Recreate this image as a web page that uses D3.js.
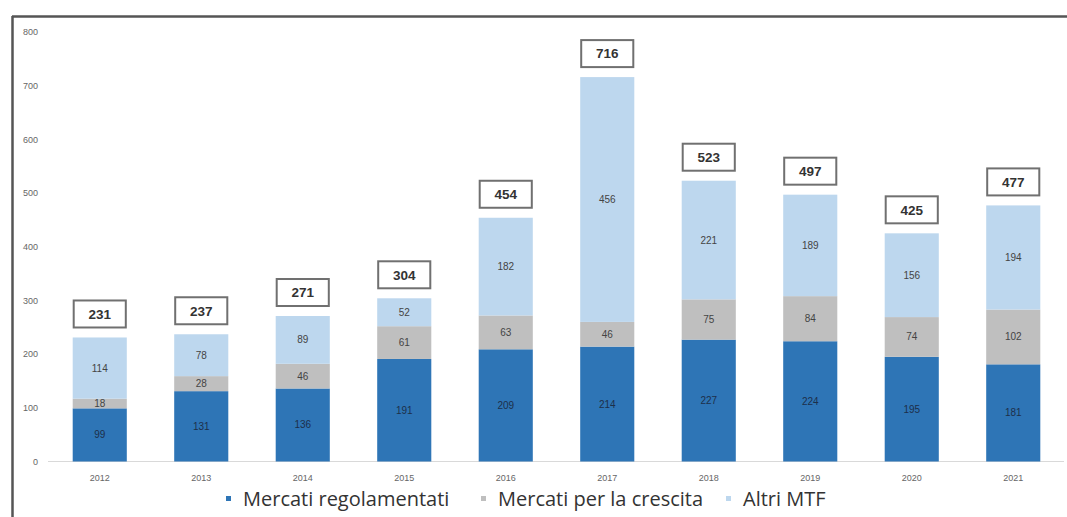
<!DOCTYPE html>
<html><head><meta charset="utf-8">
<script src="https://cdn.jsdelivr.net/npm/d3@7/dist/d3.min.js"></script>
<style>body{margin:0;background:#fff}svg{display:block}</style>
</head><body>
<svg id="c" width="1067" height="517"></svg>
<script>
const years = ["2012","2013","2014","2015","2016","2017","2018","2019","2020","2021"];
const regolamentati = [99,131,136,191,209,214,227,224,195,181];
const crescita = [18,28,46,61,63,46,75,84,74,102];
const altriMTF = [114,78,89,52,182,456,221,189,156,194];
const totals = [231,237,271,304,454,716,523,497,425,477];
const yTicks = [0,100,200,300,400,500,600,700,800];
const seriesNames = ["Mercati regolamentati","Mercati per la crescita","Altri MTF"];
const colors = ["#2E75B6","#BFBFBF","#BDD7EE"];

const svg = d3.select("#c");
const x = d3.scaleBand().domain(years).range([49,1064]).paddingInner(0.467).paddingOuter(0.2335);
const y = d3.scaleLinear().domain([0,800]).range([461.5,32]);

// frame
svg.append("line").attr("x1",12).attr("x2",1067).attr("y1",16.5).attr("y2",16.5).attr("stroke","#555").attr("stroke-width",2.5);
svg.append("line").attr("x1",12.5).attr("x2",12.5).attr("y1",16).attr("y2",517).attr("stroke","#555").attr("stroke-width",2.5);

// y axis labels
svg.append("g").selectAll("text").data(yTicks).join("text")
  .attr("x",38).attr("y",d=>y(d)).attr("dy","0.35em").attr("text-anchor","end")
  .attr("font-family","Liberation Sans, Arial, sans-serif").attr("font-size",9).attr("fill","#666")
  .text(d=>d);

// baseline
svg.append("line").attr("x1",48).attr("x2",1064).attr("y1",y(0)).attr("y2",y(0)).attr("stroke","#D9D9D9").attr("stroke-width",1);

const table = years.map((yr,i)=>({year:yr, s0:regolamentati[i], s1:crescita[i], s2:altriMTF[i]}));
const stack = d3.stack().keys(["s0","s1","s2"])(table);

const g = svg.append("g");
stack.forEach((layer,li)=>{
  g.append("g").selectAll("rect").data(layer).join("rect")
    .attr("x",d=>x(d.data.year)).attr("width",x.bandwidth())
    .attr("y",d=>y(d[1])).attr("height",d=>y(d[0])-y(d[1]))
    .attr("fill",colors[li]);
  g.append("g").selectAll("text").data(layer).join("text")
    .attr("x",d=>x(d.data.year)+x.bandwidth()/2).attr("y",d=>y((d[0]+d[1])/2)).attr("dy","0.35em")
    .attr("text-anchor","middle").attr("font-family","Liberation Sans, Arial, sans-serif").attr("font-size",10)
    .attr("fill", li===0 ? "#1d2f4a" : "#444")
    .text(d=>d[1]-d[0]);
});

// total boxes
const tb = svg.append("g");
tb.selectAll("rect").data(totals).join("rect")
  .attr("x",(d,i)=>x(years[i])+1).attr("width",x.bandwidth()-2)
  .attr("y",d=>y(d)-37).attr("height",27)
  .attr("fill","#fff").attr("stroke","#707070").attr("stroke-width",2);
tb.selectAll("text").data(totals).join("text")
  .attr("x",(d,i)=>x(years[i])+x.bandwidth()/2).attr("y",d=>y(d)-23.5).attr("dy","0.36em")
  .attr("text-anchor","middle").attr("font-family","Liberation Sans, Arial, sans-serif").attr("font-weight","bold")
  .attr("font-size",13.5).attr("fill","#333").text(d=>d);

// x labels
svg.append("g").selectAll("text").data(years).join("text")
  .attr("x",d=>x(d)+x.bandwidth()/2).attr("y",478).attr("dy","0.35em").attr("text-anchor","middle")
  .attr("font-family","Liberation Sans, Arial, sans-serif").attr("font-size",9).attr("fill","#666").text(d=>d);

// legend
const legX = [243,498,743];
const lg = svg.append("g");
seriesNames.forEach((n,i)=>{
  lg.append("rect").attr("x",legX[i]-17).attr("y",496).attr("width",5).attr("height",5).attr("fill",colors[i]);
  lg.append("text").attr("x",legX[i]).attr("y",506).attr("font-family","Open Sans, sans-serif")
    .attr("font-size",20).attr("fill","#333").text(n);
});
</script>
</body></html>
